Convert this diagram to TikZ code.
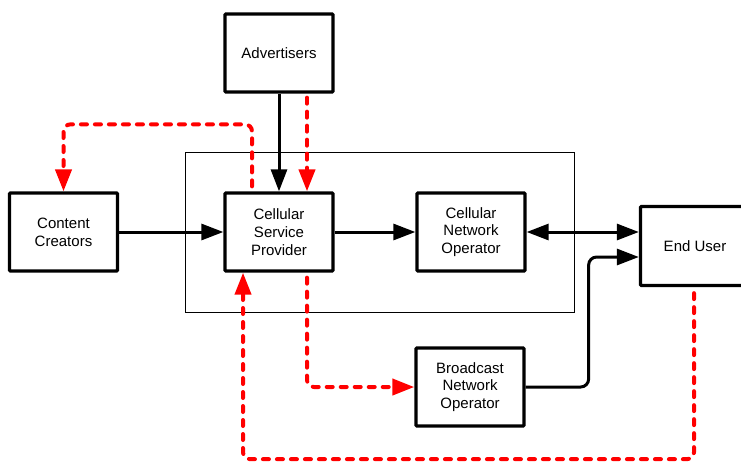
\documentclass[tikz,border=0pt]{standalone}
\usepackage{fontspec}
\setmainfont{Liberation Sans}
\usetikzlibrary{arrows.meta}

\tikzset{
  block/.style={draw, line width=3.3pt, rounded corners=1pt, fill=white,
    minimum width=108pt, minimum height=78pt, align=center, inner sep=2pt,
    font=\fontsize{15}{17.7}\selectfont},
  tip/.style={-{Triangle[length=22pt,width=16pt]}},
  flow/.style={line width=3pt, tip},
  money/.style={red, line width=4pt, line cap=round,
    dash pattern=on 6pt off 8pt, rounded corners=7pt, tip}
}

\begin{document}
\begin{tikzpicture}[x=1pt, y=-1pt]
  \useasboundingbox (0,0) rectangle (741,461);
  \clip (0,0) rectangle (741,461);

  % service-provider domain
  \draw[line width=0.8pt] (185.5,152.5) rectangle (574.5,312.5);

  % parties
  \node[block] (adv) at (279,53)    {Advertisers};
  \node[block] (cc)  at (63.5,232)  {Content\\Creators};
  \node[block] (csp) at (279,232)   {Cellular\\Service\\Provider};
  \node[block] (cno) at (471,232)   {Cellular\\Network\\Operator};
  \node[block, minimum width=109pt, minimum height=79pt] (eu) at (695,246) {End User};
  \node[block] (bno) at (470,387)   {Broadcast\\Network\\Operator};

  % content / service flows
  \draw[flow] (cc) -- (csp);
  \draw[flow] (csp) -- (cno);
  \draw[flow] (adv) -- (csp);
  \draw[line width=3pt, {Triangle[length=22pt,width=16pt]}-{Triangle[length=22pt,width=16pt]}]
    (cno.east) -- (cno.east -| eu.west);
  \draw[flow, rounded corners=8pt] (bno.east) -- ++(63,0) |- ([yshift=-11pt]eu.west);

  % payment flows
  \draw[money, shorten <=4pt] ([xshift=28pt]adv.south) -- ([xshift=28pt]csp.north);
  \draw[money, shorten <=5pt] ([xshift=-27pt]csp.north) -- ++(0,-67) -| (cc.north);
  \draw[money, shorten <=5pt] ([xshift=28pt]csp.south) |- (bno.west);
  \draw[money, shorten <=6pt] ([xshift=-1pt]eu.south) -- ++(0,172) -| ([xshift=-36pt]csp.south);
\end{tikzpicture}
\end{document}
